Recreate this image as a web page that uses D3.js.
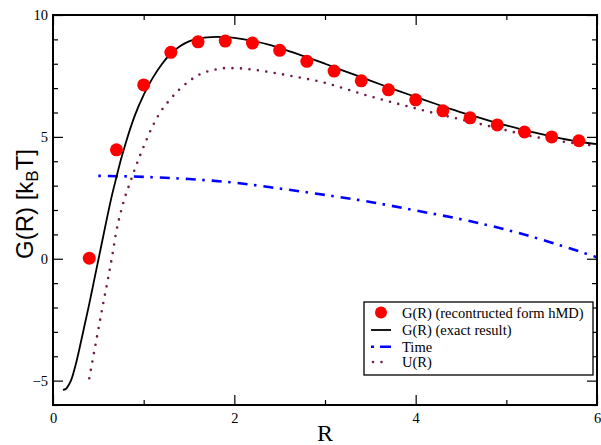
<!DOCTYPE html>
<html>
<head>
<meta charset="utf-8">
<script src="https://cdn.jsdelivr.net/npm/d3@7"></script>
<style>
  body { margin: 0; background: #fff; }
</style>
</head>
<body>
<div class="chart"></div>
<script>
const WIDTH = 601;
const HEIGHT = 445;

// reconstructed from hMD (red dots)
var hmdR = [0.4, 0.7, 1.0, 1.3, 1.6, 1.9, 2.2, 2.5, 2.8, 3.1, 3.4, 3.7, 4.0, 4.3, 4.6, 4.9, 5.2, 5.5, 5.8];
var hmdG = [0.02, 4.47, 7.13, 8.47, 8.9, 8.93, 8.85, 8.55, 8.1, 7.7, 7.3, 6.93, 6.52, 6.07, 5.78, 5.49, 5.2, 5.0, 4.84];

// exact result (black line)
var exactR = [0.11, 0.14, 0.17, 0.2, 0.25, 0.3, 0.35, 0.4, 0.45, 0.5, 0.55, 0.6, 0.65, 0.7, 0.75, 0.8, 0.9, 1.0, 1.1, 1.2, 1.3, 1.4, 1.5, 1.6, 1.7, 1.8, 1.9, 2.0, 2.2, 2.4, 2.6, 2.8, 3.0, 3.2, 3.4, 3.6, 3.8, 4.0, 4.2, 4.4, 4.6, 4.8, 5.0, 5.2, 5.4, 5.6, 5.8, 6.0];
var exactG = [-5.38, -5.35, -5.2, -4.98, -4.35, -3.55, -2.7, -1.85, -0.95, -0.05, 0.85, 1.75, 2.6, 3.35, 4.08, 4.72, 5.85, 6.72, 7.42, 7.98, 8.42, 8.72, 8.92, 9.03, 9.08, 9.1, 9.09, 9.06, 8.94, 8.76, 8.52, 8.27, 8.0, 7.72, 7.45, 7.17, 6.9, 6.64, 6.38, 6.13, 5.9, 5.68, 5.47, 5.28, 5.1, 4.94, 4.8, 4.7];

// Time (blue dash-dot)
var timeR = [0.5, 1.0, 1.5, 2.0, 2.5, 3.0, 3.5, 4.0, 4.5, 5.0, 5.5, 6.0];
var timeG = [3.4, 3.36, 3.27, 3.12, 2.88, 2.62, 2.33, 1.98, 1.62, 1.19, 0.66, 0.06];

// U(R) (maroon dotted)
var uR = [0.4, 0.45, 0.5, 0.55, 0.6, 0.65, 0.7, 0.75, 0.8, 0.85, 0.9, 1.0, 1.1, 1.2, 1.3, 1.4, 1.5, 1.6, 1.7, 1.8, 1.9, 2.0, 2.2, 2.4, 2.6, 2.8, 3.0, 3.2, 3.4, 3.6, 3.8, 4.0, 4.2, 4.4, 4.6, 4.8, 5.0, 5.2, 5.4, 5.6, 5.8, 6.0];
var uG = [-4.9, -3.9, -2.9, -1.9, -0.95, 0.05, 1.15, 1.95, 2.6, 3.12, 3.65, 4.6, 5.45, 6.1, 6.57, 6.97, 7.28, 7.53, 7.68, 7.77, 7.82, 7.82, 7.76, 7.65, 7.52, 7.38, 7.22, 7.0, 6.77, 6.56, 6.36, 6.17, 5.98, 5.8, 5.63, 5.45, 5.27, 5.09, 4.94, 4.82, 4.72, 4.63];

var xMajor = [0, 2, 4, 6];
var xMinor = [1, 3, 5];
var yMajor = [-5, 0, 5, 10];
var yMinor = [-6, -4, -3, -2, -1, 1, 2, 3, 4, 6, 7, 8, 9];

var legendLabels = ['G(R) (recontructed form hMD)', 'G(R) (exact result)', 'Time', 'U(R)'];

function zip(xs, ys) {
    return xs.map(function (x, i) { return {x: x, y: ys[i]}; });
}

var xScale = d3.scaleLinear().domain([0, 6]).range([53, 597]);
var yScale = d3.scaleLinear().domain([-6, 10]).range([405, 15]);

var svg = d3.select('.chart').append('svg')
    .attr('width', WIDTH)
    .attr('height', HEIGHT);

var line = d3.line()
    .x(function (d) { return xScale(d.x); })
    .y(function (d) { return yScale(d.y); })
    .curve(d3.curveMonotoneX);

// curves
svg.append('path')
    .attr('d', line(zip(uR, uG)))
    .attr('fill', 'none')
    .attr('stroke', '#6e1c4e')
    .attr('stroke-width', 2.6)
    .attr('stroke-linecap', 'round')
    .attr('stroke-dasharray', '0,8.5');

svg.append('path')
    .attr('d', line(zip(timeR, timeG)))
    .attr('fill', 'none')
    .attr('stroke', '#0000ff')
    .attr('stroke-width', 2.6)
    .attr('stroke-dasharray', '2.5,7,10,6.5');

svg.append('path')
    .attr('d', line(zip(exactR, exactG)))
    .attr('fill', 'none')
    .attr('stroke', '#000')
    .attr('stroke-width', 1.8);

svg.append('g').selectAll('circle')
    .data(zip(hmdR, hmdG))
    .enter().append('circle')
    .attr('cx', function (d) { return xScale(d.x); })
    .attr('cy', function (d) { return yScale(d.y); })
    .attr('r', 6.5)
    .attr('fill', '#ff0000');

// axes, ticks pointing inward on all four sides
function drawAxis(axis, tx, ty) {
    var g = svg.append('g')
        .attr('transform', 'translate(' + tx + ',' + ty + ')')
        .call(axis);
    g.attr('font-family', 'Liberation Serif, Times New Roman, serif').attr('font-size', 14.5);
    g.select('.domain').remove();
    g.selectAll('.tick line').attr('stroke', '#000').attr('stroke-width', 1.2);
    g.selectAll('.tick text').attr('fill', '#000');
    return g;
}

drawAxis(d3.axisBottom(xScale).tickValues(xMajor).tickSize(-10).tickPadding(8).tickFormat(d3.format('d')), 0, 405);
drawAxis(d3.axisBottom(xScale).tickValues(xMinor).tickSize(-5).tickFormat(''), 0, 405);
drawAxis(d3.axisTop(xScale).tickValues(xMajor).tickSize(-10).tickFormat(''), 0, 15);
drawAxis(d3.axisTop(xScale).tickValues(xMinor).tickSize(-5).tickFormat(''), 0, 15);
drawAxis(d3.axisLeft(yScale).tickValues(yMajor).tickSize(-10).tickPadding(5).tickFormat(d3.format('d')), 53, 0);
drawAxis(d3.axisLeft(yScale).tickValues(yMinor).tickSize(-5).tickFormat(''), 53, 0);
drawAxis(d3.axisRight(yScale).tickValues(yMajor).tickSize(-10).tickFormat(''), 597, 0);
drawAxis(d3.axisRight(yScale).tickValues(yMinor).tickSize(-5).tickFormat(''), 597, 0);

svg.append('rect')
    .attr('x', 53).attr('y', 15)
    .attr('width', 544).attr('height', 390)
    .attr('fill', 'none')
    .attr('stroke', '#000')
    .attr('stroke-width', 2);

// axis titles
svg.append('text')
    .attr('x', 325).attr('y', 441)
    .attr('text-anchor', 'middle')
    .attr('font-family', 'Liberation Serif, serif')
    .attr('font-size', 24)
    .text('R');

var yTitle = svg.append('text')
    .attr('transform', 'translate(33,204) rotate(-90)')
    .attr('text-anchor', 'middle')
    .attr('font-family', 'Liberation Sans, Arial, sans-serif')
    .attr('font-size', 24);
yTitle.append('tspan').text('G(R) [k');
yTitle.append('tspan').attr('font-size', 17).attr('dy', 5).text('B');
yTitle.append('tspan').attr('dy', -5).text('T]');

// legend
var legend = svg.append('g');
legend.append('rect')
    .attr('x', 364).attr('y', 302)
    .attr('width', 229).attr('height', 73)
    .attr('fill', '#fff')
    .attr('stroke', '#000')
    .attr('stroke-width', 1.3);

var rowY = [312.5, 330, 346.8, 362];
legend.append('circle').attr('cx', 381).attr('cy', rowY[0]).attr('r', 6).attr('fill', '#ff0000');
legend.append('line').attr('x1', 371).attr('x2', 391).attr('y1', rowY[1]).attr('y2', rowY[1])
    .attr('stroke', '#000').attr('stroke-width', 1.8);
legend.append('line').attr('x1', 371).attr('x2', 391).attr('y1', rowY[2]).attr('y2', rowY[2])
    .attr('stroke', '#0000ff').attr('stroke-width', 2.6).attr('stroke-dasharray', '3,6,11,100');
legend.append('line').attr('x1', 373).attr('x2', 390).attr('y1', rowY[3]).attr('y2', rowY[3])
    .attr('stroke', '#6e1c4e').attr('stroke-width', 2.6).attr('stroke-linecap', 'round')
    .attr('stroke-dasharray', '0,8.5');

legend.selectAll('text.lbl')
    .data(legendLabels)
    .enter().append('text')
    .attr('class', 'lbl')
    .attr('x', 402)
    .attr('y', function (d, i) { return rowY[i] + 5; })
    .attr('font-family', 'Liberation Serif, serif')
    .attr('font-size', 14.5)
    .text(function (d) { return d; });
</script>
</body>
</html>
